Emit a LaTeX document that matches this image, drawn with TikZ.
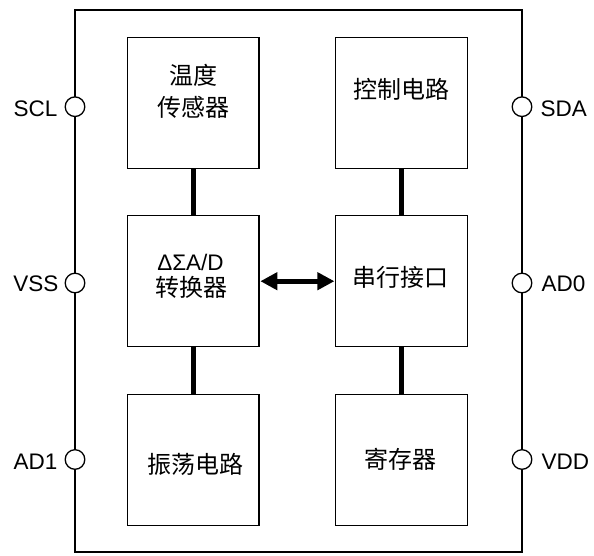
\documentclass[tikz,border=0pt]{standalone}
\usepackage{fontspec}
\setmainfont{Liberation Sans}
\newfontfamily\cjk{Noto Sans CJK SC}
\usetikzlibrary{arrows.meta}
\begin{document}
\begin{tikzpicture}[x=1pt,y=-1pt,
  outerbox/.style={draw,line width=2.6pt,minimum width=447pt,minimum height=542pt,inner sep=0pt},
  blk/.style={draw,line width=1.3pt,minimum width=131.5pt,minimum height=131pt,inner sep=0pt},
  pinc/.style={draw,circle,fill=white,line width=1.3pt,minimum size=19.6pt,inner sep=0pt},
  conn/.style={line width=5pt},
  biarrow/.style={line width=5pt,{Triangle[length=17pt,width=17pt]}-{Triangle[length=17pt,width=17pt]},shorten <=0.7pt,shorten >=0.7pt},
  lat/.style={inner sep=0pt,font=\fontsize{22.5}{27}\selectfont},
  zh/.style={inner sep=0pt,font=\cjk\fontsize{24}{30}\selectfont}
]
\useasboundingbox (0,0) rectangle (594,555);
\node[outerbox] (chip) at (298.5,281) {};

% blocks
\node[blk] (temp) at (193.25,102.8) {};
\node[blk] (ctrl) at (401.5,102.8) {};
\node[blk] (adc)  at (193.25,281.2) {};
\node[blk] (ser)  at (401.5,281.2) {};
\node[blk] (osc)  at (193.25,460) {};
\node[blk] (reg)  at (401.5,460) {};

% block texts
\node[zh,anchor=base] (t1) at (193.3,84) {温度};
\node[zh,anchor=base] (t2) at (193.3,116) {传感器};
\node[zh,anchor=base] (t3) at (401.5,98) {控制电路};
\node[lat,anchor=base] (t4) at (190.5,270) {ΔΣA/D};
\node[zh,anchor=base] (t5) at (191.7,296.5) {转换器};
\node[zh,anchor=base] (t6) at (400.7,286.5) {串行接口};
\node[zh,anchor=base] (t7) at (195.7,473.6) {振荡电路};
\node[zh,anchor=base] (t8) at (400.7,468) {寄存器};

% connectors
\draw[conn] (temp.south) -- (adc.north);
\draw[conn] (adc.south) -- (osc.north);
\draw[conn] (ctrl.south) -- (ser.north);
\draw[conn] (ser.south) -- (reg.north);
\draw[biarrow] (adc.east) -- (ser.west);

% pins
\node[pinc] (pscl) at (75,106.7) {};
\node[pinc] (pvss) at (75,283) {};
\node[pinc] (pad1) at (75,459.5) {};
\node[pinc] (psda) at (522,106.7) {};
\node[pinc] (pad0) at (522,283) {};
\node[pinc] (pvdd) at (522,459.5) {};

% pin labels
\node[lat,anchor=base east] (lscl) at (57.5,116.5) {SCL};
\node[lat,anchor=base east] (lvss) at (58.5,291.5) {VSS};
\node[lat,anchor=base east] (lad1) at (57.5,469) {AD1};
\node[lat,anchor=base west] (lsda) at (540.5,116.5) {SDA};
\node[lat,anchor=base west] (lad0) at (541.5,291.5) {AD0};
\node[lat,anchor=base west] (lvdd) at (541.5,469) {VDD};
\end{tikzpicture}
\end{document}
